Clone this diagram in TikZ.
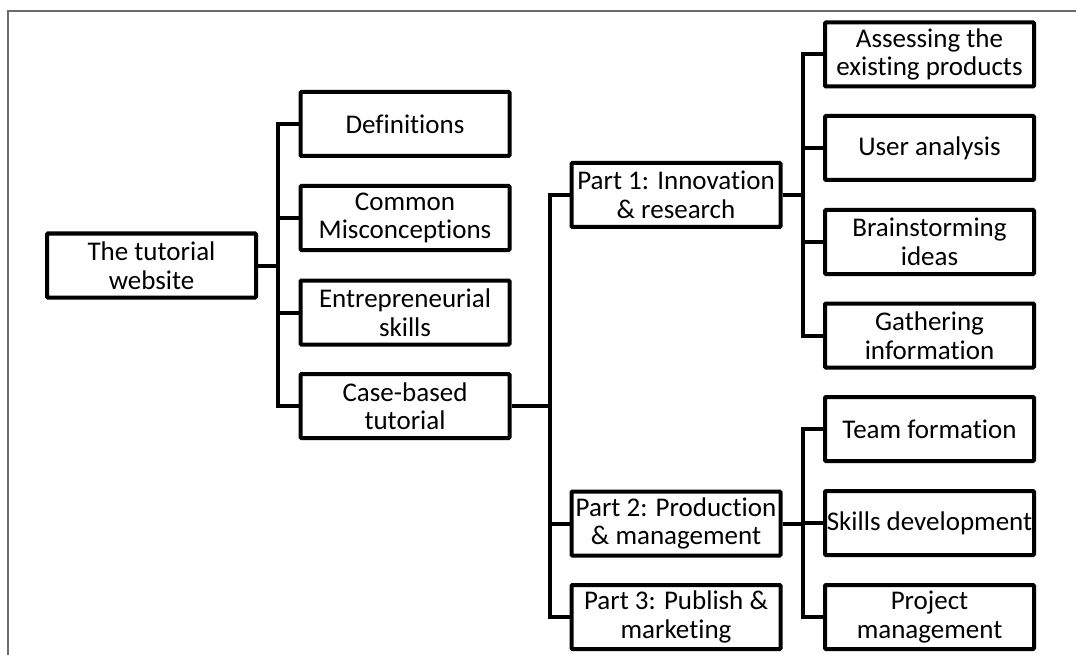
\documentclass[tikz,border=0pt]{standalone}
\usepackage{fontspec}
\setmainfont{Carlito}[Ligatures=NoCommon]
\begin{document}
\begin{tikzpicture}[x=1pt,y=-1pt,
  box/.style={draw=black, line width=4pt, fill=white, rounded corners=1pt,
    minimum width=209pt, minimum height=64pt, inner sep=0pt, align=center,
    font=\fontsize{27}{28.5}\selectfont},
  link/.style={draw=black, line width=4pt},
  frame/.style={draw=black!58, line width=1.6pt}]
\useasboundingbox (0,0) rectangle (1076,655);

% page frame (top and left edges)
\draw[frame] (8,655) -- (8,11) -- (1076,11);

% trunk positions of the three branch levels
\coordinate (t1) at (278,0);
\coordinate (t2) at (550,0);
\coordinate (t3) at (803,0);

% root
\node[box] (root) at (151.5,265.5) {The tutorial\\website};

% first level
\node[box] (def)  at (405,124) {Definitions};
\node[box] (mis)  at (405,218) {Common\\Misconceptions};
\node[box] (ent)  at (405,312.5) {Entrepreneurial\\skills};
\node[box] (case) at (405,406) {Case-based\\tutorial};

% tutorial parts
\node[box] (p1) at (676,195) {Part 1: Innovation\\\& research};
\node[box] (p2) at (676,523.5) {Part 2: Production\\\& management};
\node[box] (p3) at (676,617) {Part 3: Publish \&\\marketing};

% activities of part 1
\node[box] (assess) at (929.5,54.5) {Assessing the\\existing products};
\node[box] (user)   at (929.5,148) {User analysis};
\node[box] (brain)  at (929.5,242) {Brainstorming\\ideas};
\node[box] (gather) at (929.5,335.5) {Gathering\\information};

% activities of part 2
\node[box] (team)   at (929.5,429) {Team formation};
\node[box] (skills) at (929.5,523) {Skills development};
\node[box] (proj)   at (929.5,617) {Project\\management};

% connectors
\foreach \c in {def,mis,ent,case}
  \draw[link] (root.east) -- (root.east -| t1) |- (\c.west);
\foreach \c in {p1,p2,p3}
  \draw[link] (case.east) -- (case.east -| t2) |- (\c.west);
\foreach \c in {assess,user,brain,gather}
  \draw[link] (p1.east) -- (p1.east -| t3) |- (\c.west);
\foreach \c in {team,skills,proj}
  \draw[link] (p2.east) -- (p2.east -| t3) |- (\c.west);
\end{tikzpicture}
\end{document}
